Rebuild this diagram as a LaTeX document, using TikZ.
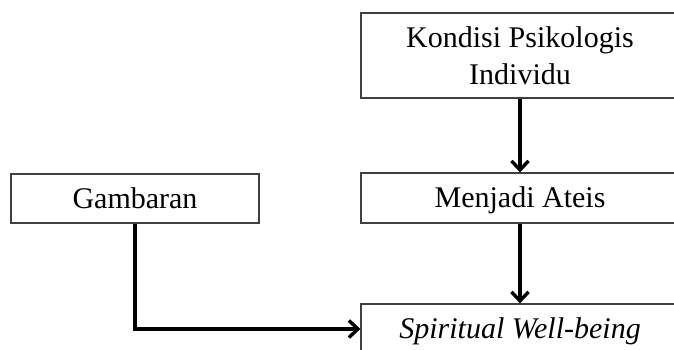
\documentclass[tikz,border=0pt]{standalone}
\usepackage{fontspec}
\setmainfont{Liberation Serif}
\usetikzlibrary{arrows.meta}
\tikzset{
  blok/.style={draw=black!75, line width=1.2pt, minimum width=318pt, align=center, inner sep=0pt, font=\fontsize{30}{37}\selectfont},
  satu/.style={blok, minimum height=50pt, text height=22pt, text depth=2pt},
  panah/.style={line width=3.4pt, -{Straight Barb[length=9pt,width=17pt]}}
}
\begin{document}
\begin{tikzpicture}[x=1pt,y=1pt]
    \useasboundingbox (0,0) rectangle (674,350);
    \clip (0,0) rectangle (674,350);
    \node[blok, minimum height=85pt] (kondisi) at (520,294.5) {Kondisi Psikologis\\Individu};
    \node[satu] (ateis) at (520,152) {Menjadi Ateis};
    \node[satu] (spirit) at (520,21) {\textit{Spiritual Well-being}};
    \node[satu, minimum height=49pt, minimum width=248pt] (gambaran) at (135,151.5) {Gambaran};
    \draw[panah] (kondisi.south) -- (ateis.north);
    \draw[panah] (ateis.south) -- (spirit.north);
    \draw[panah] (gambaran.south) |- (spirit.west);
\end{tikzpicture}
\end{document}
